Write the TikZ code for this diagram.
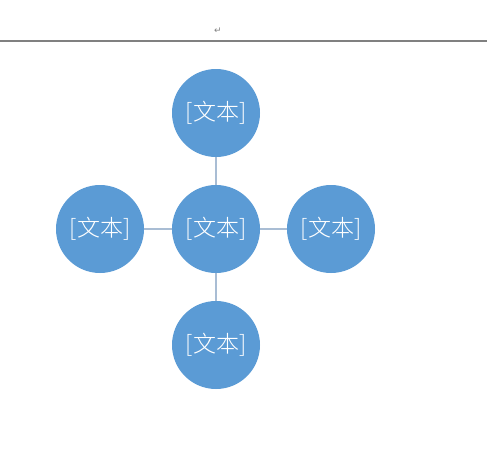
\documentclass[tikz,border=0pt]{standalone}
\usepackage{fontspec}
\newfontfamily\cjk{Noto Sans CJK SC Light}
\newfontfamily\symfont{DejaVu Sans}
\definecolor{blob}{HTML}{5B9BD5}
\definecolor{spoke}{HTML}{A9BDD4}
\begin{document}
\begin{tikzpicture}[x=1pt,y=1pt]
\tikzstyle{every node}+=[inner sep=0pt]
\tikzstyle{bubble}=[circle, fill=blob, minimum size=88pt, text=white, font=\cjk\fontsize{23}{26}\selectfont]
\useasboundingbox (0,0) rectangle (487,-466);
\draw [gray, line width=1.1pt] (0,-41) -- (487,-41);
\node (mark) at (218,-31) {\symfont\fontsize{9}{10}\selectfont\color{gray}↵};
\node [bubble] (mid) at (216,-229) {[文本]};
\node [bubble] (up) at (216,-113) {[文本]};
\node [bubble] (down) at (216,-345) {[文本]};
\node [bubble] (left) at (100,-229) {[文本]};
\node [bubble] (right) at (331,-229) {[文本]};
\draw [spoke, line width=1.3pt] (mid) -- (up);
\draw [spoke, line width=1.3pt] (mid) -- (down);
\draw [spoke, line width=1.3pt] (mid) -- (left);
\draw [spoke, line width=1.3pt] (mid) -- (right);
\end{tikzpicture}
\end{document}
